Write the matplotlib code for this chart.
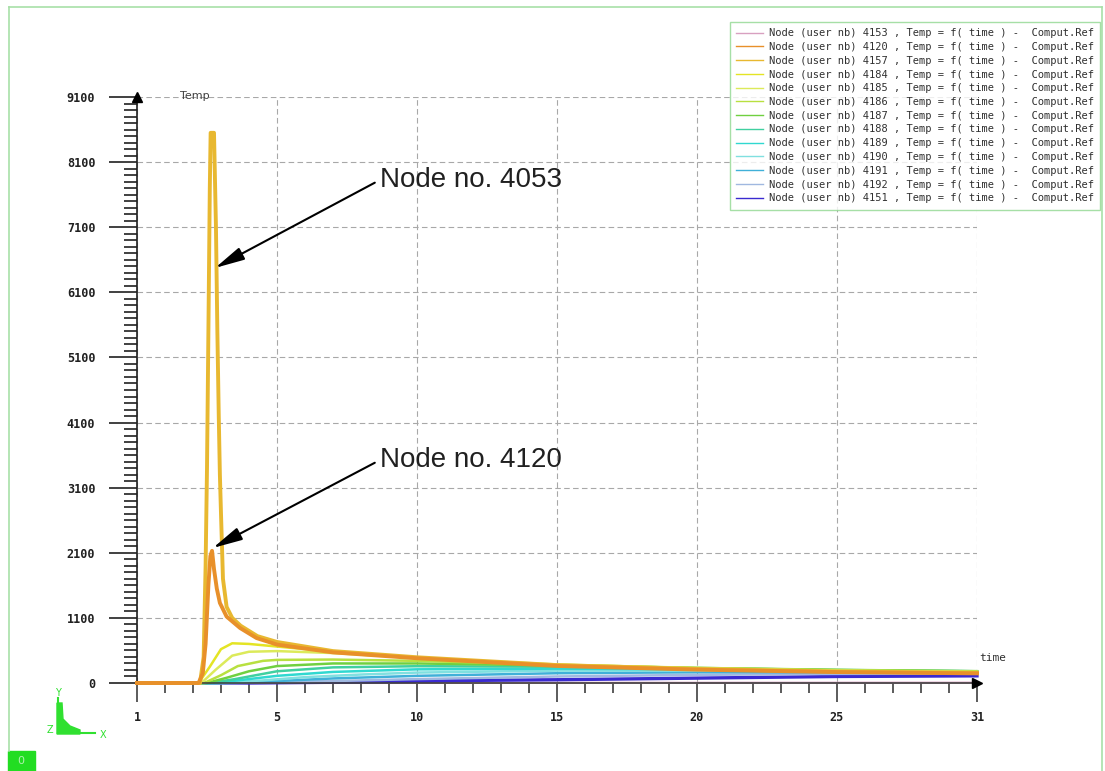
import matplotlib
matplotlib.use("Agg")
import matplotlib.pyplot as plt
from matplotlib.lines import Line2D
from matplotlib.patches import Rectangle, Polygon
from matplotlib.ticker import MultipleLocator

# Node temperature histories (time, temperature)
t_4153 = [0, 30]
T_4153 = [0, 5]

t_4120 = [0, 2.2, 2.35, 2.45, 2.55, 2.62, 2.68, 2.75, 2.85, 2.96, 3.2, 3.68, 4.27, 5, 6, 7, 10, 15, 20, 25, 30]
T_4120 = [0, 0, 150, 600, 1500, 1950, 2030, 1750, 1450, 1230, 1020, 845, 690, 590, 530, 470, 380, 262, 205, 168, 148]

t_4157 = [0, 2.25, 2.38, 2.45, 2.5, 2.55, 2.6, 2.63, 2.75, 2.82, 2.87, 2.92, 2.96, 3.0, 3.07, 3.2, 3.4, 3.7, 4.3, 5, 6, 7, 10, 15, 20, 25, 30]
T_4157 = [0, 0, 400, 1800, 3300, 5400, 7600, 8450, 8450, 7000, 5400, 4100, 3200, 2600, 1600, 1170, 1000, 880, 720, 630, 560, 490, 395, 275, 215, 175, 155]

t_4184 = [0, 2.2, 2.6, 3.0, 3.4, 4, 5, 7, 10, 15, 20, 25, 30]
T_4184 = [0, 0, 250, 520, 610, 600, 560, 480, 380, 270, 215, 180, 160]

t_4185 = [0, 2.3, 2.8, 3.4, 4, 5, 7, 10, 15, 20, 25, 30]
T_4185 = [0, 0, 200, 420, 480, 490, 460, 385, 285, 228, 190, 170]

t_4186 = [0, 2.4, 3.0, 3.6, 4.5, 5, 7, 10, 15, 20, 25, 30]
T_4186 = [0, 0, 120, 260, 340, 355, 360, 340, 280, 232, 198, 178]

t_4187 = [0, 2.5, 3.2, 4, 5, 7, 10, 15, 20, 25, 30]
T_4187 = [0, 0, 80, 180, 260, 300, 300, 270, 232, 202, 182]

t_4188 = [0, 2.6, 3.5, 4.5, 5, 7, 10, 15, 20, 25, 30]
T_4188 = [0, 0, 60, 140, 180, 240, 258, 250, 226, 200, 180]

t_4189 = [0, 2.8, 4, 5, 7, 10, 15, 20, 25, 30]
T_4189 = [0, 0, 60, 110, 170, 210, 220, 210, 195, 180]

t_4190 = [0, 3.0, 4.5, 6, 8, 10, 15, 20, 25, 30]
T_4190 = [0, 0, 40, 90, 130, 160, 190, 190, 185, 175]

t_4191 = [0, 3.2, 5, 7, 10, 15, 20, 25, 30]
T_4191 = [0, 0, 30, 70, 110, 150, 165, 165, 165]

t_4192 = [0, 3.5, 6, 10, 15, 20, 25, 30]
T_4192 = [0, 0, 20, 60, 100, 125, 140, 145]

t_4151 = [0, 4, 8, 12, 15, 20, 25, 30]
T_4151 = [0, 0, 15, 40, 50, 75, 100, 110]

node_ids = ["4153", "4120", "4157", "4184", "4185", "4186", "4187",
            "4188", "4189", "4190", "4191", "4192", "4151"]
times = [t_4153, t_4120, t_4157, t_4184, t_4185, t_4186, t_4187,
         t_4188, t_4189, t_4190, t_4191, t_4192, t_4151]
temps = [T_4153, T_4120, T_4157, T_4184, T_4185, T_4186, T_4187,
         T_4188, T_4189, T_4190, T_4191, T_4192, T_4151]
colors = ["#d8a0c0", "#e8902a", "#e8b830", "#e4e424", "#dcea5a", "#b8e040", "#70d040",
          "#40d0a0", "#30d8d0", "#80e0e0", "#40b0d8", "#a0b8e0", "#3a2ad0"]
widths = [1.6, 2.8, 2.8, 1.8, 1.8, 1.8, 1.8, 1.8, 1.8, 1.8, 1.8, 1.8, 2.4]

x_ticks = [0, 5, 10, 15, 20, 25, 30]
x_labels = ["1", "5", "10", "15", "20", "25", "31"]
y_ticks = [0, 1000, 2000, 3000, 4000, 5000, 6000, 7000, 8000, 9000]
y_labels = ["0", "1100", "2100", "3100", "4100", "5100", "6100", "7100", "8100", "9100"]

W, H = 1105, 771


def fx(px):
    return px / W


def fy(py):
    return 1 - py / H


fig = plt.figure(figsize=(W / 100, H / 100), dpi=100)
ax = fig.add_axes([fx(137), fy(683), fx(977) - fx(137), fy(97) - fy(683)])

# draw order: thin curves first, then the two peak curves on top
order = [0, 12, 11, 10, 9, 8, 7, 6, 5, 4, 3, 2, 1]
for i in order:
    ax.plot(times[i], temps[i], color=colors[i], lw=widths[i], zorder=3 if i in (1, 2) else 2,
            clip_on=False)

ax.set_xlim(0, 30)
ax.set_ylim(0, 9000)

ax.set_xticks(x_ticks)
ax.set_xticklabels(x_labels)
ax.set_yticks(y_ticks)
ax.set_yticklabels(y_labels)
ax.xaxis.set_minor_locator(MultipleLocator(1))
ax.yaxis.set_minor_locator(MultipleLocator(100))

for lab in ax.get_xticklabels() + ax.get_yticklabels():
    lab.set_family("DejaVu Sans Mono")
    lab.set_fontweight("bold")
    lab.set_fontsize(8.5)
    lab.set_color("#202020")

ax.tick_params(axis="y", which="major", length=20, width=1.2, pad=10, color="#202020")
ax.tick_params(axis="y", which="minor", length=9.5, width=1.2, color="#202020")
ax.tick_params(axis="x", which="major", length=13.5, width=1.2, pad=7, color="#404040")
ax.tick_params(axis="x", which="minor", length=7, width=1.2, color="#404040")

for s in ["top", "right"]:
    ax.spines[s].set_visible(False)
ax.spines["left"].set_color("#202020")
ax.spines["left"].set_linewidth(1.2)
ax.spines["bottom"].set_color("#404040")
ax.spines["bottom"].set_linewidth(1.2)

ax.grid(True, which="major", color="#a8a8a8", linestyle=(0, (5, 3)), lw=0.8, zorder=0)
ax.set_axisbelow(True)

# axis arrow heads
ax.plot([0], [9000], marker="^", color="black", ms=7, clip_on=False, zorder=5)
ax.plot([30], [0], marker=">", color="black", ms=7, clip_on=False, zorder=5)

fig.text(fx(180), fy(96), "Temp", fontsize=8, color="#404040", va="center")
fig.text(fx(979), fy(658), "time", fontsize=8, family="DejaVu Sans Mono", color="#303030", va="center")

# annotations
arrow = dict(arrowstyle="-|>,head_length=0.9,head_width=0.2", color="black", lw=1.5,
             shrinkA=2, shrinkB=0, relpos=(0, 0.5), mutation_scale=20)
ax.annotate("Node no. 4053", xy=(2.79, 6375), xytext=(8.68, 7727), fontsize=20,
            family="Liberation Sans", color="#202020", ha="left", va="center", arrowprops=arrow)
ax.annotate("Node no. 4120", xy=(2.71, 2074), xytext=(8.68, 3425), fontsize=20,
            family="Liberation Sans", color="#202020", ha="left", va="center", arrowprops=arrow)

# legend
handles = [Line2D([0], [0], color=colors[i], lw=1.0) for i in range(len(node_ids))]
labels = ["Node (user nb) %s , Temp = f( time ) -  Comput.Ref" % n for n in node_ids]
leg = fig.legend(handles, labels, loc="upper left", bbox_to_anchor=(fx(730), fy(22)),
                 prop={"family": "DejaVu Sans Mono", "size": 7.5}, frameon=True, fancybox=False,
                 handlelength=2.6, handletextpad=0.5, labelspacing=0.36, borderpad=0.6,
                 borderaxespad=0)
leg.get_frame().set_edgecolor("#90d890")
leg.get_frame().set_linewidth(1.0)
for txt in leg.get_texts():
    txt.set_color("#303030")

# window border
green = "#a8e0a8"
fig.add_artist(Line2D([fx(9), fx(1102)], [fy(7), fy(7)], color=green, lw=1.2, transform=fig.transFigure))
fig.add_artist(Line2D([fx(9), fx(9)], [fy(7), fy(751)], color=green, lw=1.2, transform=fig.transFigure))
fig.add_artist(Line2D([fx(1102), fx(1102)], [fy(7), fy(771)], color=green, lw=1.2, transform=fig.transFigure))

# small view triad
tri = "#30e030"
fig.add_artist(Line2D([fx(58), fx(58)], [fy(698), fy(733)], color=tri, lw=1.5, transform=fig.transFigure))
fig.add_artist(Line2D([fx(58), fx(95)], [fy(733), fy(733)], color=tri, lw=1.5, transform=fig.transFigure))
fig.add_artist(Polygon([(fx(57), fy(703)), (fx(62), fy(703)), (fx(63), fy(719)), (fx(70), fy(726)),
                        (fx(80), fy(730)), (fx(80), fy(734)), (fx(57), fy(734))],
                       closed=True, color=tri, transform=fig.transFigure))
fig.text(fx(58), fy(693), "Y", fontsize=7, color=tri, ha="center", va="center")
fig.text(fx(50), fy(730), "Z", fontsize=7, color=tri, ha="center", va="center")
fig.text(fx(103), fy(735), "X", fontsize=7, color=tri, ha="center", va="center")

fig.add_artist(Rectangle((fx(8), 0), fx(35) - fx(8), fy(751), color="#22dd22", transform=fig.transFigure))
fig.text(fx(21), fy(761), "0", fontsize=8, color="#b0f0b0", ha="center", va="center")

fig.savefig("out.png", dpi=100)
